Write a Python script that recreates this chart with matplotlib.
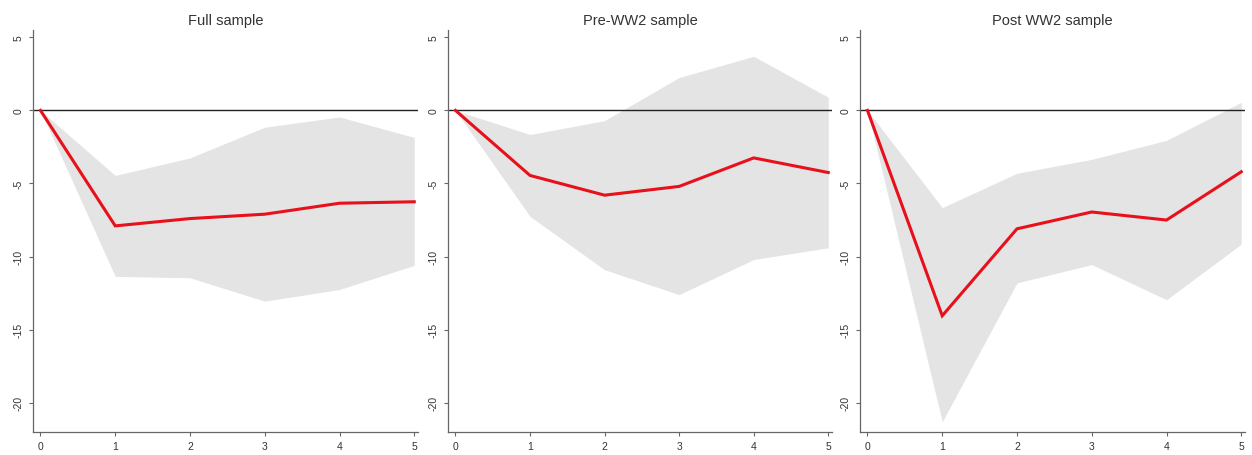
import matplotlib
matplotlib.use("Agg")
import matplotlib.pyplot as plt

plt.rcParams['font.family'] = ['Liberation Sans', 'DejaVu Sans']

horizons = [0, 1, 2, 3, 4, 5]
titles = ["Full sample", "Pre-WW2 sample", "Post WW2 sample"]

full_irf = [0, -7.9, -7.4, -7.1, -6.35, -6.25]
full_upper = [0, -4.45, -3.25, -1.15, -0.45, -1.85]
full_lower = [0, -11.35, -11.45, -13.05, -12.25, -10.6]

pre_irf = [0, -4.45, -5.8, -5.2, -3.25, -4.25]
pre_upper = [0, -1.65, -0.7, 2.25, 3.7, 0.9]
pre_lower = [0, -7.25, -10.9, -12.6, -10.2, -9.4]

post_irf = [0, -14.05, -8.1, -6.95, -7.5, -4.2]
post_upper = [0, -6.65, -4.3, -3.35, -2.05, 0.55]
post_lower = [0, -21.3, -11.8, -10.55, -12.95, -9.15]

y_ticks = [5, 0, -5, -10, -15, -20]

panels = [
    (full_irf, full_upper, full_lower),
    (pre_irf, pre_upper, pre_lower),
    (post_irf, post_upper, post_lower),
]

W, H = 1252, 456
fig = plt.figure(figsize=(W / 100, H / 100), dpi=100)

# axes pixel boxes: (left, right), top=31, bottom=433
boxes = [(33, 418), (448, 832), (860, 1245)]
top, bottom = 31, 433

for (irf, up, lo), title, (l, r) in zip(panels, titles, boxes):
    ax = fig.add_axes([l / W, 1 - bottom / H, (r - l) / W, (bottom - top) / H])
    ax.fill_between(horizons, lo, up, color="#e4e4e4", linewidth=0)
    ax.axhline(0, color="#222222", lw=1.0, zorder=2)
    ax.plot(horizons, irf, color="#e8101a", lw=2.2, zorder=3, solid_joinstyle="miter")
    ax.set_xlim(-0.1, 5.05)
    ax.set_ylim(-22, 5.5)
    ax.set_xticks(horizons)
    ax.set_yticks(y_ticks)
    ax.set_yticklabels([str(t) for t in y_ticks], rotation=90, va="center")
    for s in ["top", "right"]:
        ax.spines[s].set_visible(False)
    for s in ["left", "bottom"]:
        ax.spines[s].set_color("#666666")
        ax.spines[s].set_linewidth(0.9)
    ax.tick_params(axis="both", labelsize=7.5, colors="#333333", length=3, width=0.8)
    ax.tick_params(axis="both", color="#666666")
    ax.set_title(title, fontsize=10.5, color="#333333", pad=4)

fig.savefig("out.png", dpi=100, facecolor="white")
